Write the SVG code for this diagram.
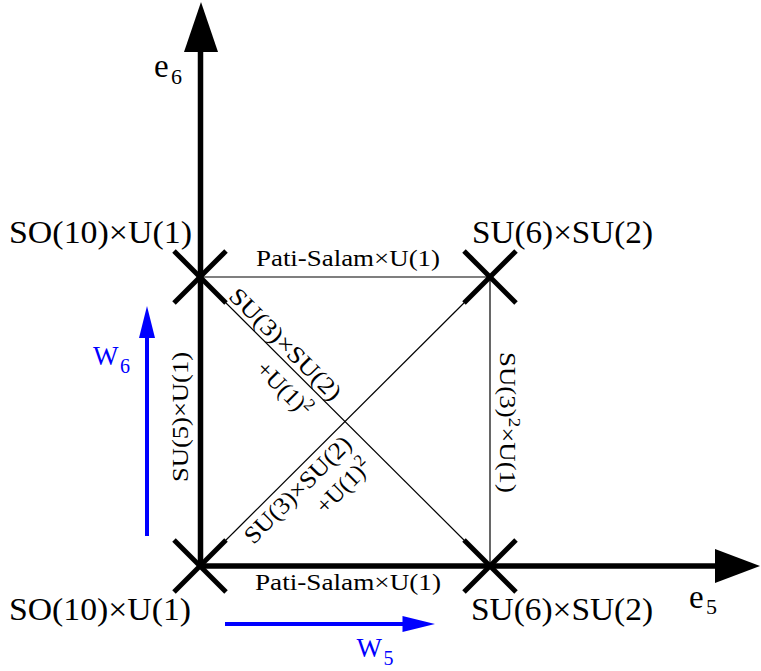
<svg xmlns="http://www.w3.org/2000/svg" width="761" height="671" viewBox="0 0 761 671" font-family="'Liberation Serif','DejaVu Serif',serif">
<style>
text{font-family:"Liberation Serif","DejaVu Serif",serif;fill:#000}
.big{font-size:32px}
.lab{font-size:24px}
.sub{font-size:22px}
.blue{fill:#0000ff}
.axis{stroke:#000;stroke-width:5.5;fill:none}
.thin{stroke:#000;stroke-width:1.2;fill:none}
.cross{stroke:#000;stroke-width:5;stroke-linecap:butt}
.warr{stroke:#0000ff;stroke-width:4;fill:none}
</style>
<defs>
<g id="x"><line class="cross" x1="-26" y1="-26" x2="26" y2="26"/><line class="cross" x1="26" y1="-26" x2="-26" y2="26"/></g>
</defs>
<g id="axes">
<line class="axis" x1="200.5" y1="568" x2="200.5" y2="50"/>
<polygon points="184,52 201,2 218,52" fill="#000"/>
<line class="axis" x1="198" y1="566" x2="718" y2="566"/>
<polygon points="715,549 760,566 715,583" fill="#000"/>
<text x="154" y="77" style="font-size:33px">e<tspan x="171" y="84" class="sub">6</tspan></text>
<text x="689" y="608" style="font-size:33px">e<tspan x="706" y="614" class="sub">5</tspan></text>
</g>
<g id="connectors">
<line class="thin" x1="200" y1="277" x2="490" y2="277"/>
<line class="thin" x1="490" y1="277" x2="490" y2="566"/>
<line class="thin" x1="200" y1="277" x2="490" y2="566"/>
<line class="thin" x1="200" y1="566" x2="490" y2="277"/>
<text class="lab" x="348" y="266" text-anchor="middle" textLength="184" lengthAdjust="spacingAndGlyphs">Pati-Salam×U(1)</text>
<text class="lab" x="348" y="590" text-anchor="middle" textLength="186" lengthAdjust="spacingAndGlyphs">Pati-Salam×U(1)</text>
<text class="lab" transform="translate(188,417) rotate(-90)" x="0" y="0" text-anchor="middle" textLength="130" lengthAdjust="spacingAndGlyphs">SU(5)×U(1)</text>
<text class="lab" transform="translate(500,422.5) rotate(90)" x="0" y="0" text-anchor="middle" textLength="141" lengthAdjust="spacingAndGlyphs">SU(3)<tspan dy="-9" style="font-size:17px">2</tspan><tspan dy="9">×U(1)</tspan></text>
<g transform="translate(200,277) rotate(45)">
<text class="lab" x="108" y="-5" text-anchor="middle" textLength="148" lengthAdjust="spacingAndGlyphs">SU(3)×SU(2)</text>
<text class="lab" x="138.5" y="27.5" text-anchor="middle">+U(1)<tspan dy="-9" style="font-size:17px">2</tspan></text>
</g>
<g transform="translate(200,566) rotate(-45)">
<text class="lab" x="123" y="23" text-anchor="middle" textLength="141" lengthAdjust="spacingAndGlyphs">SU(3)×SU(2)</text>
<text class="lab" x="158" y="52.7" text-anchor="middle">+U(1)<tspan dy="-9" style="font-size:17px">2</tspan></text>
</g>
</g>
<g id="node-so10-top">
<use href="#x" x="200" y="277"/>
<text class="big" x="9" y="243" textLength="183" lengthAdjust="spacingAndGlyphs">SO(10)×U(1)</text>
</g>
<g id="node-su6-top">
<use href="#x" x="490" y="277"/>
<text class="big" x="472" y="243" textLength="181" lengthAdjust="spacingAndGlyphs">SU(6)×SU(2)</text>
</g>
<g id="node-so10-bottom">
<use href="#x" x="200" y="566"/>
<text class="big" x="9" y="620" textLength="182" lengthAdjust="spacingAndGlyphs">SO(10)×U(1)</text>
</g>
<g id="node-su6-bottom">
<use href="#x" x="490" y="566"/>
<text class="big" x="471" y="620" textLength="182" lengthAdjust="spacingAndGlyphs">SU(6)×SU(2)</text>
</g>
<g id="w6">
<line class="warr" x1="147" y1="536" x2="147" y2="334"/>
<polygon points="139,338 147,306 155,338" fill="#0000ff"/>
<text class="blue" x="93" y="365" style="font-size:27px">W<tspan x="120" y="373" style="font-size:20px">6</tspan></text>
</g>
<g id="w5">
<line class="warr" x1="225" y1="624" x2="406" y2="624"/>
<polygon points="402.5,616 435,624 402.5,632" fill="#0000ff"/>
<text class="blue" x="356.5" y="656.5" style="font-size:27px">W<tspan x="383.5" y="665" style="font-size:20px">5</tspan></text>
</g>
</svg>
